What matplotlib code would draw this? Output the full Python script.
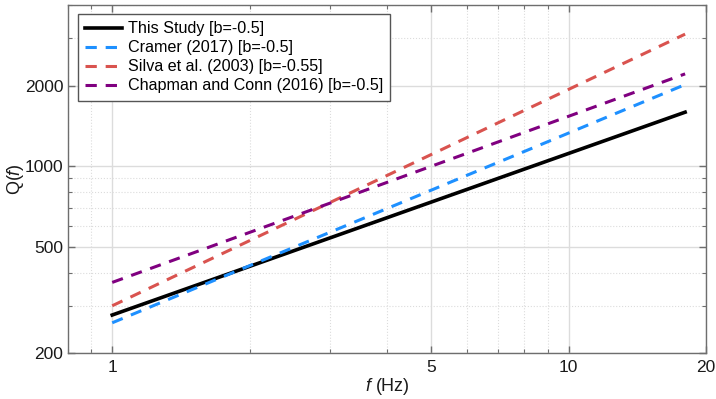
import matplotlib
matplotlib.use("Agg")
import matplotlib.pyplot as plt
from matplotlib.ticker import FixedLocator, NullFormatter, FixedFormatter

plt.rcParams['font.family'] = ['Liberation Sans', 'DejaVu Sans']
plt.rcParams['mathtext.fontset'] = 'custom'
plt.rcParams['mathtext.rm'] = 'Liberation Sans'
plt.rcParams['mathtext.it'] = 'Liberation Sans:italic'

# Data: frequency endpoints and Q(f) values (straight lines on log-log)
freq = [1, 18]
q_this_study = [278, 1591]
q_cramer = [260, 2017]
q_silva = [301, 3113]
q_chapman = [368, 2212]

labels = ["This Study [b=-0.5]", "Cramer (2017) [b=-0.5]",
          "Silva et al. (2003) [b=-0.55]", "Chapman and Conn (2016) [b=-0.5]"]

x_ticks = [1, 5, 10, 20]
y_ticks = [200, 500, 1000, 2000]

fig = plt.figure(figsize=(7.16, 3.99), dpi=100)
ax = fig.add_axes([68/716, 1-353.3/399, (706-68)/716, (353.3-5)/399])

dash = (0, (3.7, 2.9))
ax.plot(freq, q_this_study, color='black', lw=2.6, label=labels[0])
ax.plot(freq, q_cramer, color='#1E90FF', lw=2.2, ls=dash, label=labels[1])
ax.plot(freq, q_silva, color='#D9534F', lw=2.2, ls=dash, label=labels[2])
ax.plot(freq, q_chapman, color='#800080', lw=2.2, ls=dash, label=labels[3])

ax.set_xscale('log')
ax.set_yscale('log')
ax.set_xlim(0.8, 20)
ax.set_ylim(200, 4000)

ax.xaxis.set_major_locator(FixedLocator(x_ticks))
ax.xaxis.set_major_formatter(FixedFormatter([str(t) for t in x_ticks]))
ax.xaxis.set_minor_locator(FixedLocator([0.8, 0.9, 2, 3, 4, 6, 7, 8, 9]))
ax.xaxis.set_minor_formatter(NullFormatter())
ax.yaxis.set_major_locator(FixedLocator(y_ticks))
ax.yaxis.set_major_formatter(FixedFormatter([str(t) for t in y_ticks]))
ax.yaxis.set_minor_locator(FixedLocator([300, 400, 600, 700, 800, 900, 3000, 4000]))
ax.yaxis.set_minor_formatter(NullFormatter())

ax.grid(True, which='major', color='#dcdcdc', lw=1.0, ls='-')
ax.grid(True, which='minor', color='#dcdcdc', lw=0.8, ls=':')
ax.set_axisbelow(True)

for s in ax.spines.values():
    s.set_color('#6e6e6e')
    s.set_linewidth(1.0)
ax.tick_params(which='both', direction='in', top=True, right=True,
               colors='#6e6e6e', labelcolor='#1a1a1a', labelsize=12.5)
ax.tick_params(which='major', length=5, width=1.0)
ax.tick_params(which='minor', length=3, width=0.8)
ax.tick_params(axis='x', pad=5)

ax.set_xlabel(r"$f$ (Hz)", fontsize=13, color='#1a1a1a')
ax.set_ylabel(r"Q($f$)", fontsize=13, color='#1a1a1a')
ax.xaxis.set_label_coords(0.5, (353.3 - 386.5) / 348.3)
ax.xaxis.label.set_va('center')
ax.yaxis.set_label_coords((15 - 68) / 638, 0.5)
ax.yaxis.label.set_va('center')

leg = ax.legend(loc='upper left', fontsize=11.6, frameon=True, fancybox=False,
                edgecolor='#555555', framealpha=1, borderpad=0.45,
                handlelength=2.3, handletextpad=0.35, labelspacing=0.25,
                borderaxespad=0, bbox_to_anchor=(10/638, 1 - 9/348.3))
leg.get_frame().set_linewidth(1.0)

fig.savefig("out.png", dpi=100)
